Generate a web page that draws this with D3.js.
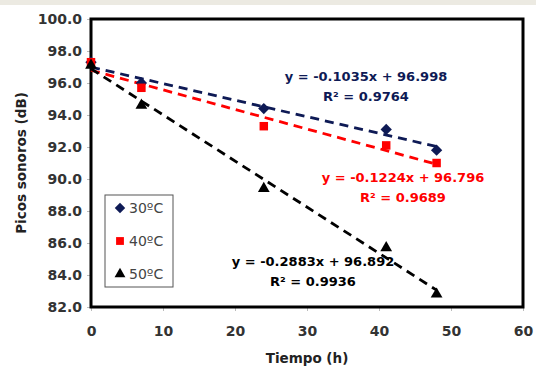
<!DOCTYPE html>
<html>
<head>
<meta charset="utf-8">
<script src="https://cdn.jsdelivr.net/npm/d3@7"></script>
<style>
  body { margin: 0; background: #fff; }
  text { font-family: "DejaVu Sans", sans-serif; }
</style>
</head>
<body>
<div id="chart"></div>
<script>
// data
var tiempo = [0, 7, 24, 41, 48];
var series = ["30ºC", "40ºC", "50ºC"];
var picos30 = [97.3, 96.0, 94.4, 93.1, 91.8];
var picos40 = [97.3, 95.7, 93.3, 92.1, 91.0];
var picos50 = [97.1, 94.6, 89.4, 85.7, 82.8];
var slopes = [-0.1035, -0.1224, -0.2883];
var intercepts = [96.998, 96.796, 96.892];
var eqLabels = ["y = -0.1035x + 96.998", "y = -0.1224x + 96.796", "y = -0.2883x + 96.892"];
var r2Labels = ["R² = 0.9764", "R² = 0.9689", "R² = 0.9936"];
var yTicks = [82, 84, 86, 88, 90, 92, 94, 96, 98, 100];
var xTicks = [0, 10, 20, 30, 40, 50, 60];

var colors = ["#0e1a55", "#ff0000", "#000000"];
var allValues = [picos30, picos40, picos50];

var svg = d3.select("#chart").append("svg").attr("width", 536).attr("height", 369),
    margin = {top: 19, right: 13, bottom: 62, left: 91},
    width = 536 - margin.left - margin.right,
    height = 369 - margin.top - margin.bottom;

// faint band on top of the picture
svg.append("rect").attr("x", 0).attr("y", 0).attr("width", 536).attr("height", 5).attr("fill", "#eceae2");

var g = svg.append("g").attr("transform", "translate(" + margin.left + "," + margin.top + ")");

var x = d3.scaleLinear().domain([0, 60]).range([0, width]);
var y = d3.scaleLinear().domain([82, 100]).range([height, 0]);

// axes
var yAxis = g.append("g")
    .call(d3.axisLeft(y).tickValues(yTicks).tickFormat(d3.format(".1f")).tickSize(4).tickPadding(5));
var xAxis = g.append("g")
    .attr("transform", "translate(0," + height + ")")
    .call(d3.axisBottom(x).tickValues(xTicks).tickSize(4).tickPadding(15));

[yAxis, xAxis].forEach(function(a) {
  a.select(".domain").remove();
  a.selectAll("line").attr("stroke", "#bbb");
  a.selectAll("text").attr("font-size", 14).attr("font-weight", "bold").attr("fill", "#333");
});

// plot frame
g.append("rect")
    .attr("x", 0).attr("y", 0)
    .attr("width", width).attr("height", height)
    .attr("fill", "none").attr("stroke", "#000").attr("stroke-width", 3);

// trend lines
series.forEach(function(s, i) {
  g.append("line")
      .attr("x1", x(0)).attr("y1", y(intercepts[i]))
      .attr("x2", x(48)).attr("y2", y(intercepts[i] + slopes[i] * 48))
      .attr("stroke", colors[i])
      .attr("stroke-width", 2.8)
      .attr("stroke-dasharray", "9,6");
});

// markers: diamond = rotated square
var symbols = [d3.symbolSquare, d3.symbolSquare, d3.symbolTriangle];
var sizes = [64, 72, 60];
var rot = [" rotate(45)", "", ""];
series.forEach(function(s, i) {
  g.selectAll(".pt" + i)
    .data(tiempo.map(function(t, j) { return {t: t, v: allValues[i][j]}; }))
    .enter().append("path")
      .attr("class", "pt" + i)
      .attr("d", d3.symbol().type(symbols[i]).size(sizes[i]))
      .attr("transform", function(d) {
        return "translate(" + x(d.t) + "," + y(d.v) + ")" + rot[i];
      })
      .attr("fill", colors[i]);
});

// equations
var eqPos = [[366, 81], [403, 182], [313, 266]];
series.forEach(function(s, i) {
  svg.append("text")
      .attr("x", eqPos[i][0]).attr("y", eqPos[i][1])
      .attr("text-anchor", "middle")
      .attr("font-size", 13).attr("font-weight", "bold")
      .attr("fill", colors[i])
      .text(eqLabels[i]);
  svg.append("text")
      .attr("x", eqPos[i][0]).attr("y", eqPos[i][1] + 20)
      .attr("text-anchor", "middle")
      .attr("font-size", 13).attr("font-weight", "bold")
      .attr("fill", colors[i])
      .text(r2Labels[i]);
});

// legend
var legend = svg.append("g").attr("transform", "translate(105,195)");
legend.append("rect")
    .attr("width", 68).attr("height", 92)
    .attr("fill", "#fff").attr("stroke", "#555").attr("stroke-width", 1);
series.forEach(function(s, i) {
  legend.append("path")
      .attr("d", d3.symbol().type(symbols[i]).size(sizes[i] * 0.85))
      .attr("transform", "translate(15," + (13 + i * 33) + ")" + rot[i])
      .attr("fill", colors[i]);
  legend.append("text")
      .attr("x", 24).attr("y", 13 + i * 33)
      .attr("dy", "0.35em")
      .attr("font-size", 14)
      .attr("fill", "#444")
      .text(s);
});

// axis titles
svg.append("text")
    .attr("transform", "translate(26," + (margin.top + height / 2) + ") rotate(-90)")
    .attr("text-anchor", "middle")
    .attr("font-size", 13.5).attr("font-weight", "bold").attr("fill", "#222")
    .text("Picos sonoros (dB)");
svg.append("text")
    .attr("x", 307).attr("y", 363)
    .attr("text-anchor", "middle")
    .attr("font-size", 13.5).attr("font-weight", "bold").attr("fill", "#222")
    .text("Tiempo (h)");
</script>
</body>
</html>
